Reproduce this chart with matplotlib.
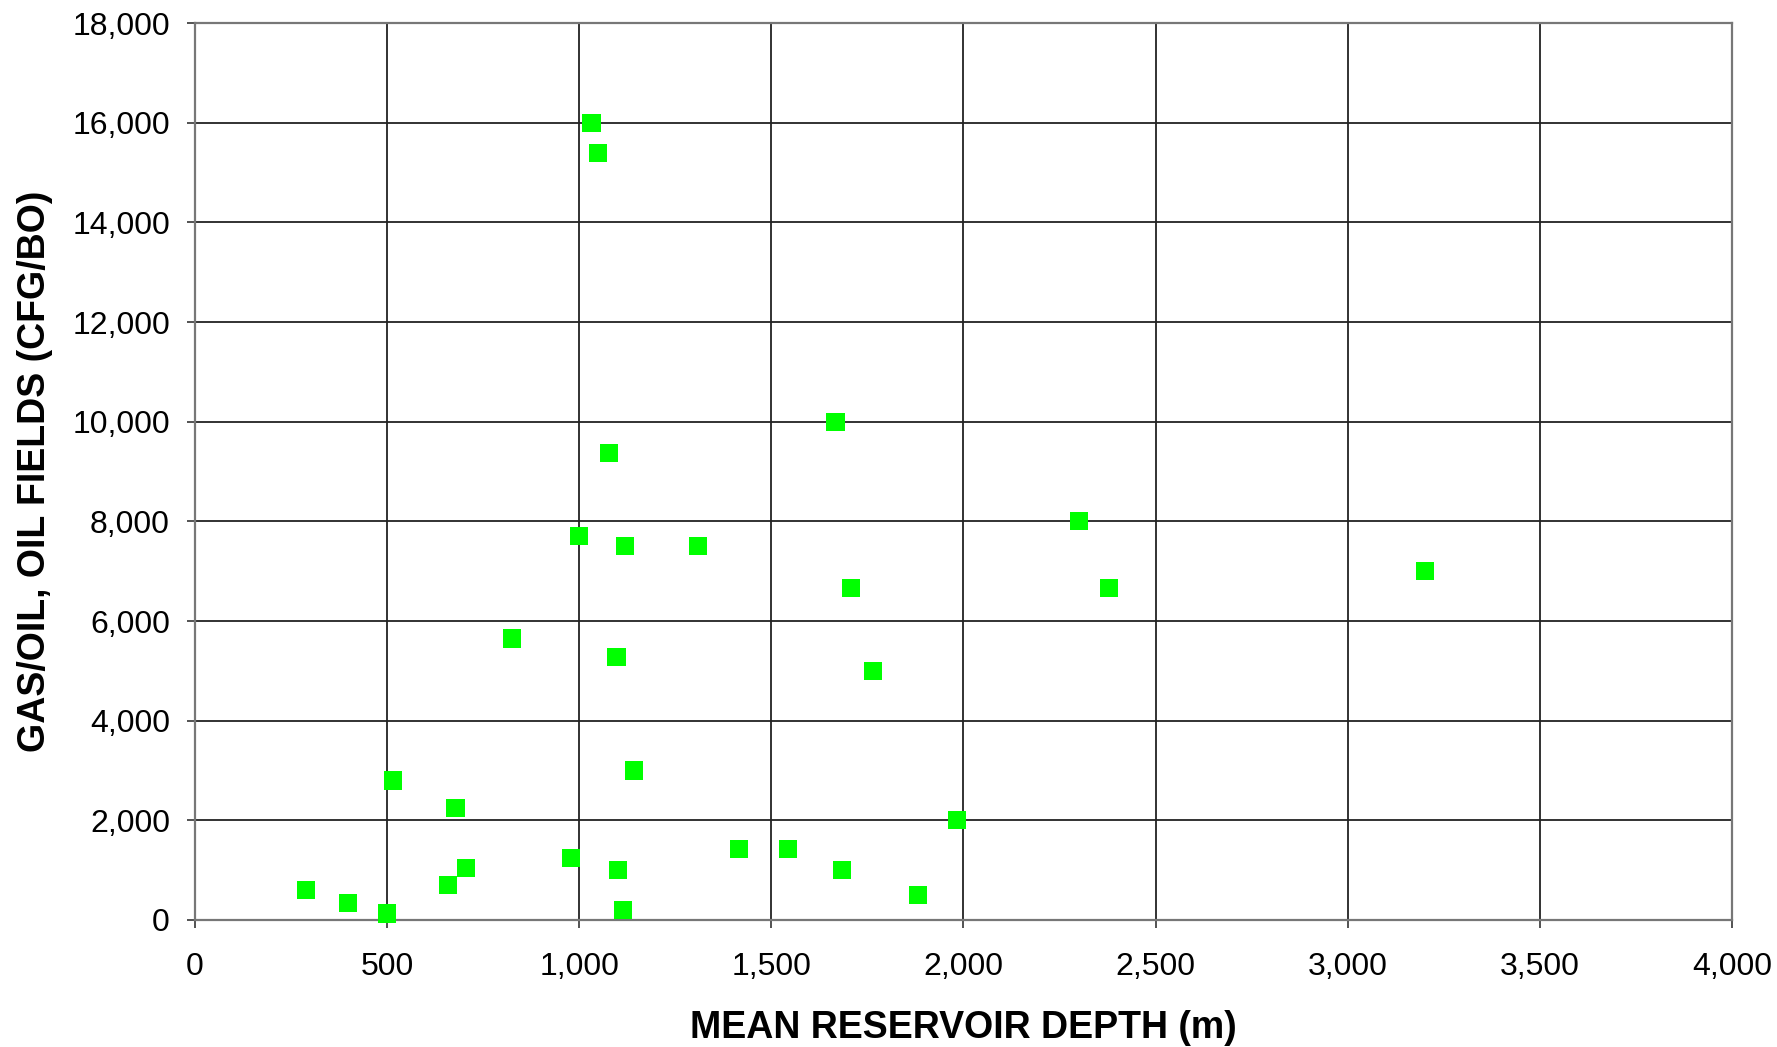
import matplotlib.pyplot as plt
from matplotlib.ticker import FuncFormatter

plt.rcParams["font.family"] = ["Liberation Sans", "DejaVu Sans"]

# mean reservoir depth (m) and gas/oil ratio (CFG/BO)
depth = [289, 398, 499, 516, 658, 678, 705, 826, 979, 1000,
         1032, 1050, 1077, 1097, 1100, 1115, 1118, 1142, 1310, 1416,
         1543, 1667, 1684, 1708, 1764, 1882, 1982, 2301, 2378, 3201]
gor = [600, 350, 130, 2800, 700, 2250, 1050, 5650, 1250, 7700,
       16000, 15400, 9370, 5270, 1000, 200, 7500, 3000, 7500, 1430,
       1430, 10000, 1000, 6670, 5000, 500, 2000, 8000, 6670, 7000]

x_ticks = list(range(0, 4001, 500))
y_ticks = list(range(0, 18001, 2000))

fig = plt.figure(figsize=(17.77, 10.47), dpi=100)
ax = fig.add_axes([0.1097, 0.1213, 0.8650, 0.8567])

ax.scatter(depth, gor,
           marker="s",
           s=170,
           color="#00ff00",
           edgecolors="none",
           zorder=3,
           clip_on=False
           )

ax.set_xlim(0, 4000)
ax.set_ylim(0, 18000)
ax.set_xticks(x_ticks)
ax.set_yticks(y_ticks)
fmt = FuncFormatter(lambda v, p: f"{int(v):,}")
ax.xaxis.set_major_formatter(fmt)
ax.yaxis.set_major_formatter(fmt)

ax.grid(True, color="#222222", linewidth=1.3)
ax.set_axisbelow(True)
for side in ax.spines.values():
    side.set_color("#777777")
    side.set_linewidth(1.6)

ax.tick_params(which="both",
               direction="out",
               length=6,
               width=1.3,
               color="#444444",
               labelsize=23
               )
ax.tick_params(axis="x", pad=17)
ax.tick_params(axis="y", pad=12)

ax.set_xlabel("MEAN RESERVOIR DEPTH (m)", fontsize=27, fontweight="bold", labelpad=20)
ax.set_ylabel("GAS/OIL, OIL FIELDS (CFG/BO)", fontsize=27, fontweight="bold", labelpad=14)

plt.savefig("out.png", dpi=100)
